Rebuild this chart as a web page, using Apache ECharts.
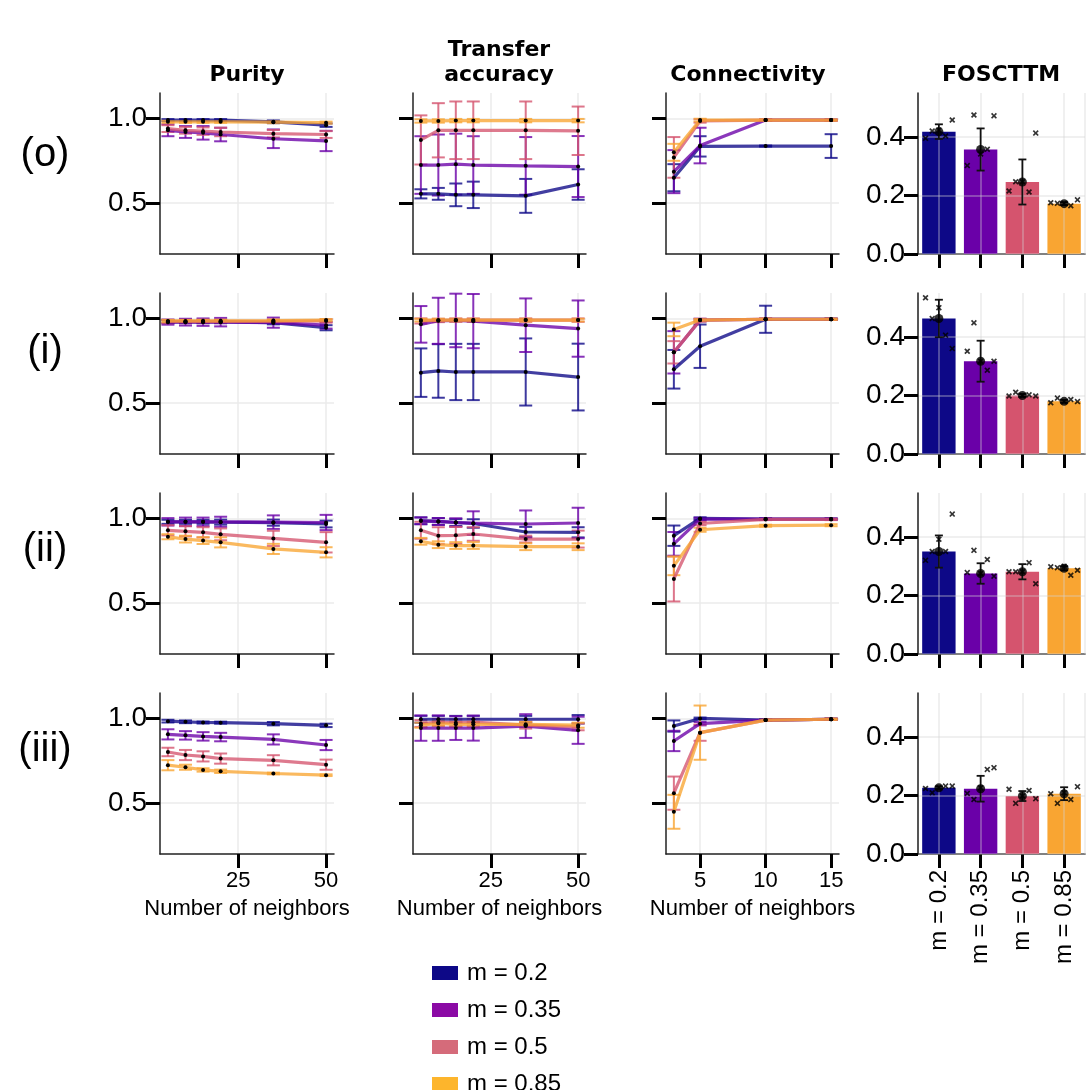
<!DOCTYPE html>
<html>
<head>
<meta charset="utf-8">
<script src="https://cdn.jsdelivr.net/npm/echarts@6/dist/echarts.min.js"></script>
<style>
    html, body {margin: 0; padding: 0; background: #fff;}
    #main {width: 1091px; height: 1090px;}
</style>
</head>
<body>
<div id="main"></div>
<script>
var mLabels = ['m = 0.2', 'm = 0.35', 'm = 0.5', 'm = 0.85'];
var rowLabels = ['(o)', '(i)', '(ii)', '(iii)'];
var colTitles = ['Purity', 'Transfer\naccuracy', 'Connectivity', 'FOSCTTM'];
var kWide = [5, 10, 15, 20, 35, 50];
var kConn = [3, 5, 10, 15];
var wideTicks = [25, 50];
var connTicks = [5, 10, 15];
var scoreTicks = [0.5, 1.0];
var fosTicks = [0, 0.2, 0.4];

// rows (o),(i),(ii),(iii); inside each row: m = 0.2, 0.35, 0.5, 0.85
var purityMean = [
    [[0.99, 0.99, 0.99, 0.99, 0.98, 0.96], [0.93, 0.92, 0.915, 0.905, 0.88, 0.867], [0.94, 0.93, 0.925, 0.92, 0.91, 0.905], [0.98, 0.98, 0.98, 0.98, 0.978, 0.975]],
    [[0.98, 0.98, 0.98, 0.98, 0.975, 0.945], [0.978, 0.978, 0.978, 0.978, 0.975, 0.96], [0.982, 0.982, 0.982, 0.982, 0.983, 0.985], [0.985, 0.985, 0.986, 0.986, 0.987, 0.99]],
    [[0.98, 0.98, 0.98, 0.978, 0.975, 0.967], [0.98, 0.98, 0.98, 0.98, 0.978, 0.976], [0.93, 0.924, 0.918, 0.906, 0.882, 0.859], [0.892, 0.878, 0.869, 0.859, 0.82, 0.80]],
    [[0.984, 0.98, 0.976, 0.975, 0.969, 0.959], [0.906, 0.90, 0.894, 0.89, 0.876, 0.843], [0.802, 0.784, 0.776, 0.763, 0.753, 0.727], [0.724, 0.712, 0.696, 0.688, 0.675, 0.665]]
];
var purityErr = [
    [[0.006, 0.006, 0.006, 0.006, 0.008, 0.01], [0.035, 0.035, 0.04, 0.04, 0.055, 0.06], [0.02, 0.02, 0.022, 0.025, 0.022, 0.02], [0.006, 0.006, 0.006, 0.006, 0.006, 0.006]],
    [[0.008, 0.008, 0.008, 0.008, 0.01, 0.015], [0.015, 0.02, 0.022, 0.025, 0.03, 0.02], [0.01, 0.01, 0.01, 0.01, 0.01, 0.01], [0.006, 0.006, 0.006, 0.006, 0.006, 0.006]],
    [[0.012, 0.012, 0.012, 0.015, 0.018, 0.02], [0.022, 0.025, 0.025, 0.03, 0.04, 0.045], [0.03, 0.03, 0.03, 0.035, 0.045, 0.06], [0.015, 0.02, 0.02, 0.03, 0.03, 0.03]],
    [[0.008, 0.008, 0.006, 0.006, 0.01, 0.01], [0.03, 0.025, 0.025, 0.025, 0.03, 0.03], [0.025, 0.03, 0.03, 0.03, 0.03, 0.03], [0.03, 0.015, 0.01, 0.01, 0.005, 0.005]]
];

var transferMean = [
    [[0.555, 0.555, 0.549, 0.549, 0.543, 0.61], [0.725, 0.725, 0.73, 0.725, 0.72, 0.716], [0.873, 0.93, 0.93, 0.93, 0.93, 0.927], [0.985, 0.985, 0.987, 0.987, 0.987, 0.987]],
    [[0.68, 0.69, 0.684, 0.684, 0.684, 0.654], [0.965, 0.986, 0.988, 0.984, 0.96, 0.94], [0.985, 0.988, 0.99, 0.99, 0.99, 0.99], [0.99, 0.99, 0.99, 0.99, 0.99, 0.99]],
    [[0.986, 0.982, 0.976, 0.97, 0.92, 0.918], [0.986, 0.982, 0.976, 0.972, 0.967, 0.973], [0.93, 0.898, 0.9, 0.908, 0.878, 0.878], [0.865, 0.845, 0.84, 0.84, 0.833, 0.833]],
    [[0.995, 0.995, 0.995, 0.995, 0.995, 0.995], [0.943, 0.943, 0.943, 0.943, 0.955, 0.93], [0.97, 0.978, 0.974, 0.978, 0.96, 0.95], [0.96, 0.97, 0.965, 0.965, 0.965, 0.96]]
];
var transferErr = [
    [[0.027, 0.035, 0.067, 0.078, 0.1, 0.09], [0.17, 0.18, 0.18, 0.17, 0.17, 0.18], [0.145, 0.16, 0.17, 0.17, 0.17, 0.143], [0.01, 0.01, 0.01, 0.01, 0.01, 0.01]],
    [[0.143, 0.158, 0.166, 0.166, 0.198, 0.197], [0.108, 0.136, 0.158, 0.16, 0.158, 0.166], [0.015, 0.01, 0.01, 0.01, 0.01, 0.01], [0.008, 0.008, 0.008, 0.008, 0.008, 0.008]],
    [[0.02, 0.02, 0.02, 0.025, 0.03, 0.03], [0.02, 0.02, 0.025, 0.07, 0.08, 0.09], [0.05, 0.05, 0.05, 0.04, 0.02, 0.05], [0.02, 0.02, 0.02, 0.02, 0.02, 0.02]],
    [[0.02, 0.02, 0.02, 0.02, 0.02, 0.025], [0.075, 0.075, 0.07, 0.074, 0.07, 0.08], [0.02, 0.02, 0.02, 0.02, 0.02, 0.02], [0.015, 0.015, 0.015, 0.015, 0.015, 0.015]]
];

var connMean = [
    [[0.65, 0.835, 0.837, 0.837], [0.686, 0.84, 0.99, 0.99], [0.77, 0.985, 0.99, 0.99], [0.80, 0.99, 0.99, 0.99]],
    [[0.70, 0.836, 0.995, 0.995], [0.80, 0.99, 0.995, 0.995], [0.80, 0.99, 0.995, 0.995], [0.935, 0.99, 0.995, 0.995]],
    [[0.898, 1.0, 0.996, 0.996], [0.85, 0.996, 0.996, 0.996], [0.643, 0.97, 0.994, 0.994], [0.72, 0.933, 0.957, 0.96]],
    [[0.955, 1.0, 0.99, 0.995], [0.867, 0.969, 0.99, 0.995], [0.559, 0.916, 0.99, 0.995], [0.449, 0.916, 0.99, 0.995]]
];
var connErr = [
    [[0.08, 0.06, 0.003, 0.07], [0.127, 0.105, 0.004, 0.004], [0.12, 0.01, 0.004, 0.004], [0.05, 0.008, 0.004, 0.004]],
    [[0.114, 0.128, 0.08, 0.004], [0.125, 0.008, 0.004, 0.004], [0.066, 0.008, 0.004, 0.004], [0.04, 0.006, 0.004, 0.004]],
    [[0.06, 0.006, 0.004, 0.004], [0.07, 0.008, 0.004, 0.004], [0.133, 0.01, 0.004, 0.004], [0.055, 0.012, 0.006, 0.006]],
    [[0.033, 0.005, 0.004, 0.004], [0.06, 0.01, 0.004, 0.004], [0.098, 0.048, 0.004, 0.004], [0.1, 0.16, 0.004, 0.004]]
];

// FOSCTTM: bar = mean, err, and the 5 single runs (left to right as drawn)
var fosMean = [
    [0.418, 0.357, 0.246, 0.172],
    [0.463, 0.317, 0.200, 0.180],
    [0.350, 0.275, 0.281, 0.293],
    [0.226, 0.223, 0.198, 0.206]
];
var fosErr = [
    [0.025, 0.072, 0.077, 0.005],
    [0.064, 0.070, 0.005, 0.005],
    [0.055, 0.035, 0.026, 0.007],
    [0.005, 0.044, 0.017, 0.022]
];
var fosRuns = [
    [[0.395, 0.42, 0.424, 0.403, 0.458], [0.302, 0.475, 0.342, 0.358, 0.472], [0.215, 0.247, 0.247, 0.212, 0.413], [0.175, 0.173, 0.173, 0.165, 0.185]],
    [[0.534, 0.463, 0.50, 0.406, 0.36], [0.351, 0.448, 0.317, 0.286, 0.317], [0.198, 0.211, 0.20, 0.202, 0.198], [0.175, 0.191, 0.179, 0.186, 0.179]],
    [[0.32, 0.35, 0.392, 0.35, 0.478], [0.278, 0.354, 0.275, 0.323, 0.266], [0.281, 0.281, 0.281, 0.312, 0.24], [0.298, 0.295, 0.30, 0.269, 0.286]],
    [[0.224, 0.209, 0.226, 0.232, 0.232], [0.207, 0.186, 0.226, 0.289, 0.295], [0.221, 0.173, 0.198, 0.217, 0.189], [0.206, 0.173, 0.209, 0.186, 0.23]]
];

var lineColors = ['#0d0887', '#6a00a8', '#d5546e', '#f9a532'];
var barColors = ['#0d0887', '#6a00a8', '#d5546e', '#f9a532'];
var legendColors = ['#0d0887', '#8b0aa5', '#d56b7a', '#fdb52c'];
var jitter = [-0.32, -0.16, 0, 0.16, 0.32];

var myChart = echarts.init(document.getElementById('main'));

var gridLeft = [160, 413, 666, 918];
var gridWidth = [174, 173, 173, 167];
var gridTop = [93, 293, 493, 693];
var gridHeight = 161;

var axisLineStyle = {color: '#222', width: 1.5};
var tickStyle = {color: '#000', width: 3};
var splitStyle = {color: '#ebebeb', width: 1.5};
var overSplit = {color: 'rgba(210,210,210,0.45)', width: 1.5};
var font = 'Liberation Sans';

var grids = [], xAxes = [], yAxes = [], series = [];

function fmt1(v) {
    return v.toFixed(1);
}

// 误差线: [x, low, high]
function errorBar(capHalf, lineWidth, color, opacity) {
    return function (params, api) {
        var x = api.value(0);
        var top = api.coord([x, api.value(2)]);
        var bot = api.coord([x, api.value(1)]);
        var st = {stroke: color, lineWidth: lineWidth, opacity: opacity};
        return {
            type: 'group',
            children: [
                {type: 'line', shape: {x1: top[0], y1: top[1], x2: bot[0], y2: bot[1]}, style: st},
                {type: 'line', shape: {x1: top[0] - capHalf, y1: top[1], x2: top[0] + capHalf, y2: top[1]}, style: st},
                {type: 'line', shape: {x1: bot[0] - capHalf, y1: bot[1], x2: bot[0] + capHalf, y2: bot[1]}, style: st}
            ]
        };
    };
}

var panels = [
    {mean: purityMean, err: purityErr, k: kWide, min: 2.75, max: 52.25, ticks: wideTicks},
    {mean: transferMean, err: transferErr, k: kWide, min: 2.75, max: 52.25, ticks: wideTicks},
    {mean: connMean, err: connErr, k: kConn, min: 2.4, max: 15.6, ticks: connTicks}
];

for (var r = 0; r < 4; r++) {
    for (var c = 0; c < 4; c++) {
        var gi = r * 4 + c;
        grids.push({left: gridLeft[c], top: gridTop[r], width: gridWidth[c], height: gridHeight, outerBoundsMode: 'none'});
        var bottomRow = r === 3;
        if (c < 3) {
            var p = panels[c];
            xAxes.push({
                gridIndex: gi, type: 'value', min: p.min, max: p.max,
                axisLine: {show: true, onZero: false, lineStyle: axisLineStyle},
                axisTick: {show: true, length: 14, lineStyle: tickStyle, customValues: p.ticks},
                axisLabel: {show: bottomRow, customValues: p.ticks, fontSize: 22, color: '#000', margin: 16, fontFamily: font},
                splitLine: {show: true, lineStyle: splitStyle, customValues: p.ticks},
                name: bottomRow ? 'Number of neighbors' : '',
                nameLocation: 'middle', nameGap: 44,
                nameTextStyle: {fontSize: 22, color: '#000', fontFamily: font}
            });
            yAxes.push({
                gridIndex: gi, type: 'value', min: 0.2, max: 1.15,
                axisLine: {show: true, onZero: false, lineStyle: axisLineStyle},
                axisTick: {show: true, length: 14, lineStyle: tickStyle, customValues: scoreTicks},
                axisLabel: {show: c === 0, customValues: scoreTicks, formatter: fmt1, fontSize: 28, color: '#000', margin: 13, fontFamily: font},
                splitLine: {show: true, lineStyle: splitStyle, customValues: scoreTicks}
            });
            for (var m = 0; m < 4; m++) {
                var mean = p.mean[r][m], err = p.err[r][m];
                series.push({
                    type: 'custom', xAxisIndex: gi, yAxisIndex: gi, z: 2, silent: true,
                    renderItem: errorBar(6.5, 2, lineColors[m], 0.8),
                    data: p.k.map(function (x, i) { return [x, mean[i] - err[i], mean[i] + err[i]]; })
                });
                series.push({
                    type: 'line', name: mLabels[m], xAxisIndex: gi, yAxisIndex: gi, z: 3, silent: true,
                    symbol: 'circle', symbolSize: 4, showSymbol: true,
                    itemStyle: {color: '#000'},
                    lineStyle: {color: lineColors[m], width: 3.2, opacity: 0.78},
                    data: p.k.map(function (x, i) { return [x, mean[i]]; })
                });
            }
        } else {
            xAxes.push({
                gridIndex: gi, type: 'category', data: mLabels,
                axisLine: {show: true, onZero: false, lineStyle: axisLineStyle},
                axisTick: {show: true, alignWithLabel: true, length: 14, lineStyle: tickStyle},
                axisLabel: {show: bottomRow, rotate: 90, fontSize: 24, color: '#000', margin: 16, fontFamily: font},
                splitLine: {show: false}
            });
            yAxes.push({
                gridIndex: gi, type: 'value', min: 0, max: 0.55, z: 3,
                axisLine: {show: true, onZero: false, lineStyle: axisLineStyle},
                axisTick: {show: true, length: 14, lineStyle: tickStyle, customValues: fosTicks},
                axisLabel: {show: true, customValues: fosTicks, formatter: fmt1, fontSize: 28, color: '#000', margin: 13, fontFamily: font},
                splitLine: {show: true, lineStyle: overSplit, customValues: [0.2, 0.4]}
            });
            series.push({
                type: 'bar', xAxisIndex: gi, yAxisIndex: gi, z: 2, silent: true,
                barCategoryGap: '20%',
                data: fosMean[r].map(function (v, i) { return {value: v, itemStyle: {color: barColors[i]}}; })
            });
            var fm = fosMean[r], fe = fosErr[r];
            series.push({
                type: 'custom', xAxisIndex: gi, yAxisIndex: gi, z: 5, silent: true,
                renderItem: errorBar(4, 1.8, '#111', 1),
                data: fm.map(function (v, i) { return [i, v - fe[i], v + fe[i]]; })
            });
            series.push({
                type: 'scatter', xAxisIndex: gi, yAxisIndex: gi, z: 6, silent: true,
                symbol: 'circle', symbolSize: 9, itemStyle: {color: '#000'},
                data: fm.map(function (v, i) { return [i, v]; })
            });
        }
    }
}

// 抖动散点用的隐藏数值轴 (每行一个)
for (var r2 = 0; r2 < 4; r2++) {
    var g4 = r2 * 4 + 3;
    xAxes.push({
        gridIndex: g4, type: 'value', min: -0.5, max: 3.5, z: 3,
        axisLine: {show: false}, axisTick: {show: false}, axisLabel: {show: false},
        splitLine: {show: true, lineStyle: overSplit, customValues: [0, 1, 2, 3]}
    });
    var pts = [];
    fosRuns[r2].forEach(function (runs, i) {
        runs.forEach(function (v, j) {
            pts.push([i + jitter[j], v]);
        });
    });
    series.push({
        type: 'scatter', xAxisIndex: xAxes.length - 1, yAxisIndex: g4, z: 6, silent: true,
        symbol: 'path://M0,2L2,0L5,3L8,0L10,2L7,5L10,8L8,10L5,7L2,10L0,8L3,5Z',
        symbolSize: 6, itemStyle: {color: '#000'},
        data: pts
    });
}

var graphics = [];
var titleX = [247, 499, 748, 1001];
colTitles.forEach(function (t, i) {
    graphics.push({
        type: 'text', x: titleX[i], y: 88,
        style: {text: t, font: 'bold 22px "DejaVu Sans"', fill: '#000', align: 'center', verticalAlign: 'bottom', textAlign: 'center', textVerticalAlign: 'bottom', lineHeight: 25}
    });
});
var rowY = [155, 352, 550, 750];
rowLabels.forEach(function (t, i) {
    graphics.push({
        type: 'text', x: 45, y: rowY[i],
        style: {text: t, font: '40px "Liberation Sans"', fill: '#000', align: 'center', verticalAlign: 'middle', textAlign: 'center', textVerticalAlign: 'middle'}
    });
});

// 图例: 每个 m 一行
var legends = mLabels.map(function (n, i) {
    return {
        orient: 'vertical', left: 432, top: 961 + i * 37, padding: 0,
        itemWidth: 26, itemHeight: 14,
        selectedMode: false, icon: 'rect',
        textStyle: {fontSize: 24, color: '#000', fontFamily: font, lineHeight: 22, padding: [0, 0, 0, 4]},
        data: [{name: n, icon: 'rect', itemStyle: {color: legendColors[i], borderWidth: 0}}]
    };
});

option = {
    animation: false,
    backgroundColor: '#fff',
    textStyle: {fontFamily: font},
    grid: grids,
    xAxis: xAxes,
    yAxis: yAxes,
    legend: legends,
    graphic: graphics,
    series: series
};

myChart.setOption(option);
window.addEventListener("resize", function () {
    myChart.resize();
});
</script>
</body>
</html>
